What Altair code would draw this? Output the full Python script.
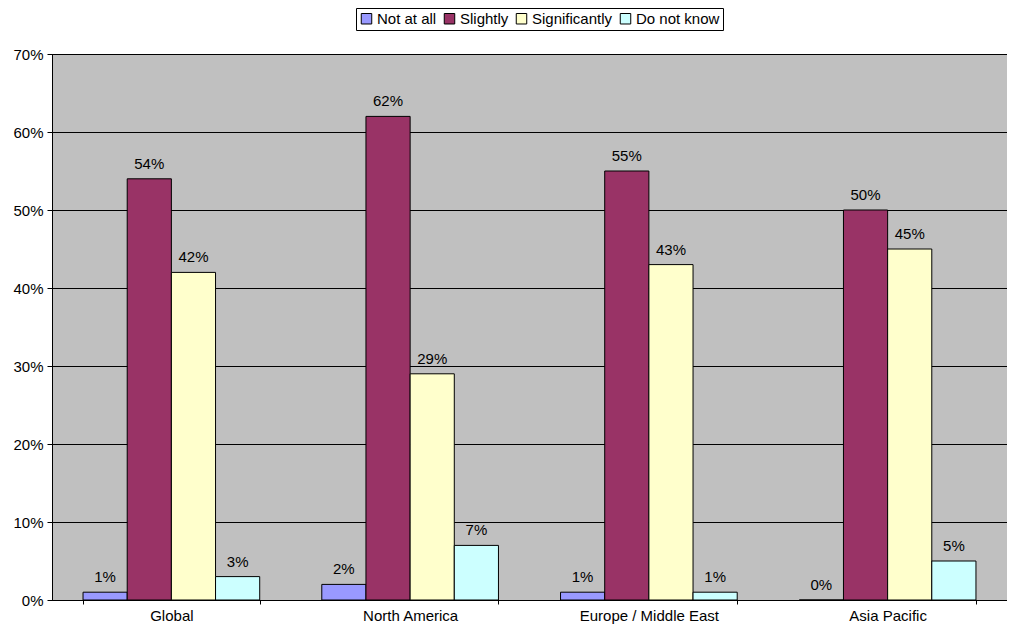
import altair as alt
import pandas as pd

regions = ["Global", "North America", "Europe / Middle East", "Asia Pacific"]
series = ["Not at all", "Slightly", "Significantly", "Do not know"]
colors = ["#9999FF", "#993366", "#FFFFCC", "#CCFFFF"]
not_at_all = [1, 2, 1, 0]
slightly = [54, 62, 55, 50]
significantly = [42, 29, 43, 45]
do_not_know = [3, 7, 1, 5]

rows = []
for i, r in enumerate(regions):
    for s, vals in zip(series, [not_at_all, slightly, significantly, do_not_know]):
        rows.append({"Region": r, "Series": s, "Value": vals[i] / 100.0})
df = pd.DataFrame(rows)

FONT = "Liberation Sans"
FS = 15

x = alt.X("Region:N", sort=regions, title=None,
          scale=alt.Scale(paddingInner=0.26, paddingOuter=0.13),
          axis=alt.Axis(labelAngle=0, labelFontSize=FS, labelFont=FONT, labelColor="black",
                        tickBand="extent", tickColor="black", tickSize=4,
                        domainColor="black", labelPadding=4))
y = alt.Y("Value:Q", title=None,
          scale=alt.Scale(domain=[0, 0.7], nice=False),
          axis=alt.Axis(format=".0%", values=[0, 0.1, 0.2, 0.3, 0.4, 0.5, 0.6, 0.7],
                        labelFontSize=FS, labelFont=FONT, labelColor="black",
                        tickColor="black", tickSize=5, domainColor="black",
                        grid=True, gridColor="black", gridWidth=1, labelPadding=4))
xoff = alt.XOffset("Series:N", sort=series, scale=alt.Scale(paddingInner=0, paddingOuter=0))
color = alt.Color("Series:N", sort=series,
                  scale=alt.Scale(domain=series, range=colors),
                  legend=alt.Legend(title=None, orient="none", direction="horizontal",
                                    legendX=304, legendY=-46, symbolType="square",
                                    symbolStrokeColor="black", symbolStrokeWidth=1,
                                    symbolSize=110, symbolOpacity=1,
                                    labelFontSize=FS, labelFont=FONT, labelColor="black",
                                    columnPadding=5, symbolOffset=0, labelOffset=3,
                                    strokeColor="black", padding=3,
                                    fillColor="white"))

bars = alt.Chart(df).mark_bar(stroke="black", strokeWidth=1, opacity=1).encode(
    x=x, y=y, xOffset=xoff, color=color
)
labels = alt.Chart(df).mark_text(dy=-15, fontSize=FS, font=FONT, color="black").encode(
    x=x, y=y, xOffset=xoff, text=alt.Text("Value:Q", format=".0%")
)

chart = (bars + labels).properties(
    width=955, height=546,
    autosize=alt.AutoSizeParams(type="none"),
    padding={"left": 44, "top": 46, "right": 0, "bottom": 26},
).configure_view(fill="#C0C0C0", stroke="black", strokeWidth=1)

chart.save("out.html", embed_options={"renderer": "svg", "actions": False})
